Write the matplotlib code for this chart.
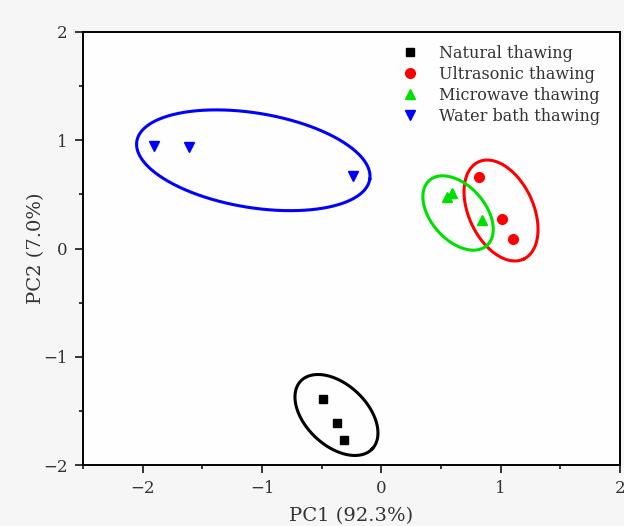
import numpy as np
import matplotlib
matplotlib.use("Agg")
import matplotlib.pyplot as plt
from matplotlib.ticker import MultipleLocator

plt.rcParams['font.family'] = ['DejaVu Serif']
plt.rcParams['mathtext.fontset'] = 'dejavuserif'

groups = ["Natural thawing", "Ultrasonic thawing", "Microwave thawing", "Water bath thawing"]
colors = ["#000000", "#ff0000", "#00e000", "#0000ff"]
markers = ["s", "o", "^", "v"]

natural_x = [-0.486, -0.374, -0.310]
natural_y = [-1.390, -1.609, -1.769]
ultra_x = [0.818, 1.014, 1.101]
ultra_y = [0.663, 0.270, 0.088]
micro_x = [0.548, 0.590, 0.841]
micro_y = [0.479, 0.510, 0.263]
water_x = [-1.905, -1.609, -0.235]
water_y = [0.950, 0.940, 0.670]

# ellipse: centre (data), semi-axes (x-data units), angle (deg, screen)
ell_cx = [-0.376, 1.003, 0.643, -1.073]
ell_cy = [-1.538, 0.351, 0.328, 0.815]
ell_rx = [0.413, 0.449, 0.364, 0.989]
ell_ry = [0.256, 0.271, 0.227, 0.396]
ell_ang = [-43.4, -65.1, -48.6, -9.3]

xs = [natural_x, ultra_x, micro_x, water_x]
ys = [natural_y, ultra_y, micro_y, water_y]

fig = plt.figure(figsize=(6.24, 5.26), dpi=100, facecolor="#f6f6f6")
ax = fig.add_axes([83/624, 1-465/526, (620-83)/624, (465-32)/526])
ax.set_facecolor("#fefefe")
ax.set_xlim(-2.5, 2)
ax.set_ylim(-2, 2)

# isotropy factor between y and x data units on screen
bb = ax.get_position()
W, H = fig.get_size_inches()
sx = bb.width * W / 4.5
sy = bb.height * H / 4.0
k = sy / sx

t = np.linspace(0, 2*np.pi, 400)
for i in range(4):
    phi = np.deg2rad(ell_ang[i])
    u = ell_rx[i]*np.cos(t)*np.cos(phi) - ell_ry[i]*np.sin(t)*np.sin(phi)
    v = ell_rx[i]*np.cos(t)*np.sin(phi) + ell_ry[i]*np.sin(t)*np.cos(phi)
    ax.plot(ell_cx[i] + u, ell_cy[i] + v/k, color=colors[i], lw=2.2, zorder=2)

msizes = [6, 7, 7.5, 7.5]
for i in range(4):
    ax.plot(xs[i], ys[i], linestyle="none", marker=markers[i], color=colors[i],
            markersize=msizes[i], label=groups[i], zorder=3)

ax.xaxis.set_major_locator(MultipleLocator(1))
ax.xaxis.set_minor_locator(MultipleLocator(0.5))
ax.yaxis.set_major_locator(MultipleLocator(1))
ax.yaxis.set_minor_locator(MultipleLocator(0.5))
ax.tick_params(which="major", direction="out", length=6, width=1.1, labelsize=12,
               labelcolor="#333333", pad=5)
ax.tick_params(which="minor", direction="out", length=3, width=1.1)
ax.tick_params(top=False, right=False, which="both")
for s in ax.spines.values():
    s.set_linewidth(1.4)

ax.set_xlabel("PC1 (92.3%)", fontsize=14, color="#333333", labelpad=7)
ax.set_ylabel("PC2 (7.0%)", fontsize=14, color="#333333", labelpad=-1)

leg = ax.legend(loc="upper left", bbox_to_anchor=(0.585, 0.978), frameon=False,
                fontsize=11.5, handlelength=1.2, handletextpad=1.2,
                labelspacing=0.25, borderaxespad=0, borderpad=0.2)
for txt in leg.get_texts():
    txt.set_color("#333333")

fig.savefig("out.png", dpi=100, facecolor=fig.get_facecolor())
